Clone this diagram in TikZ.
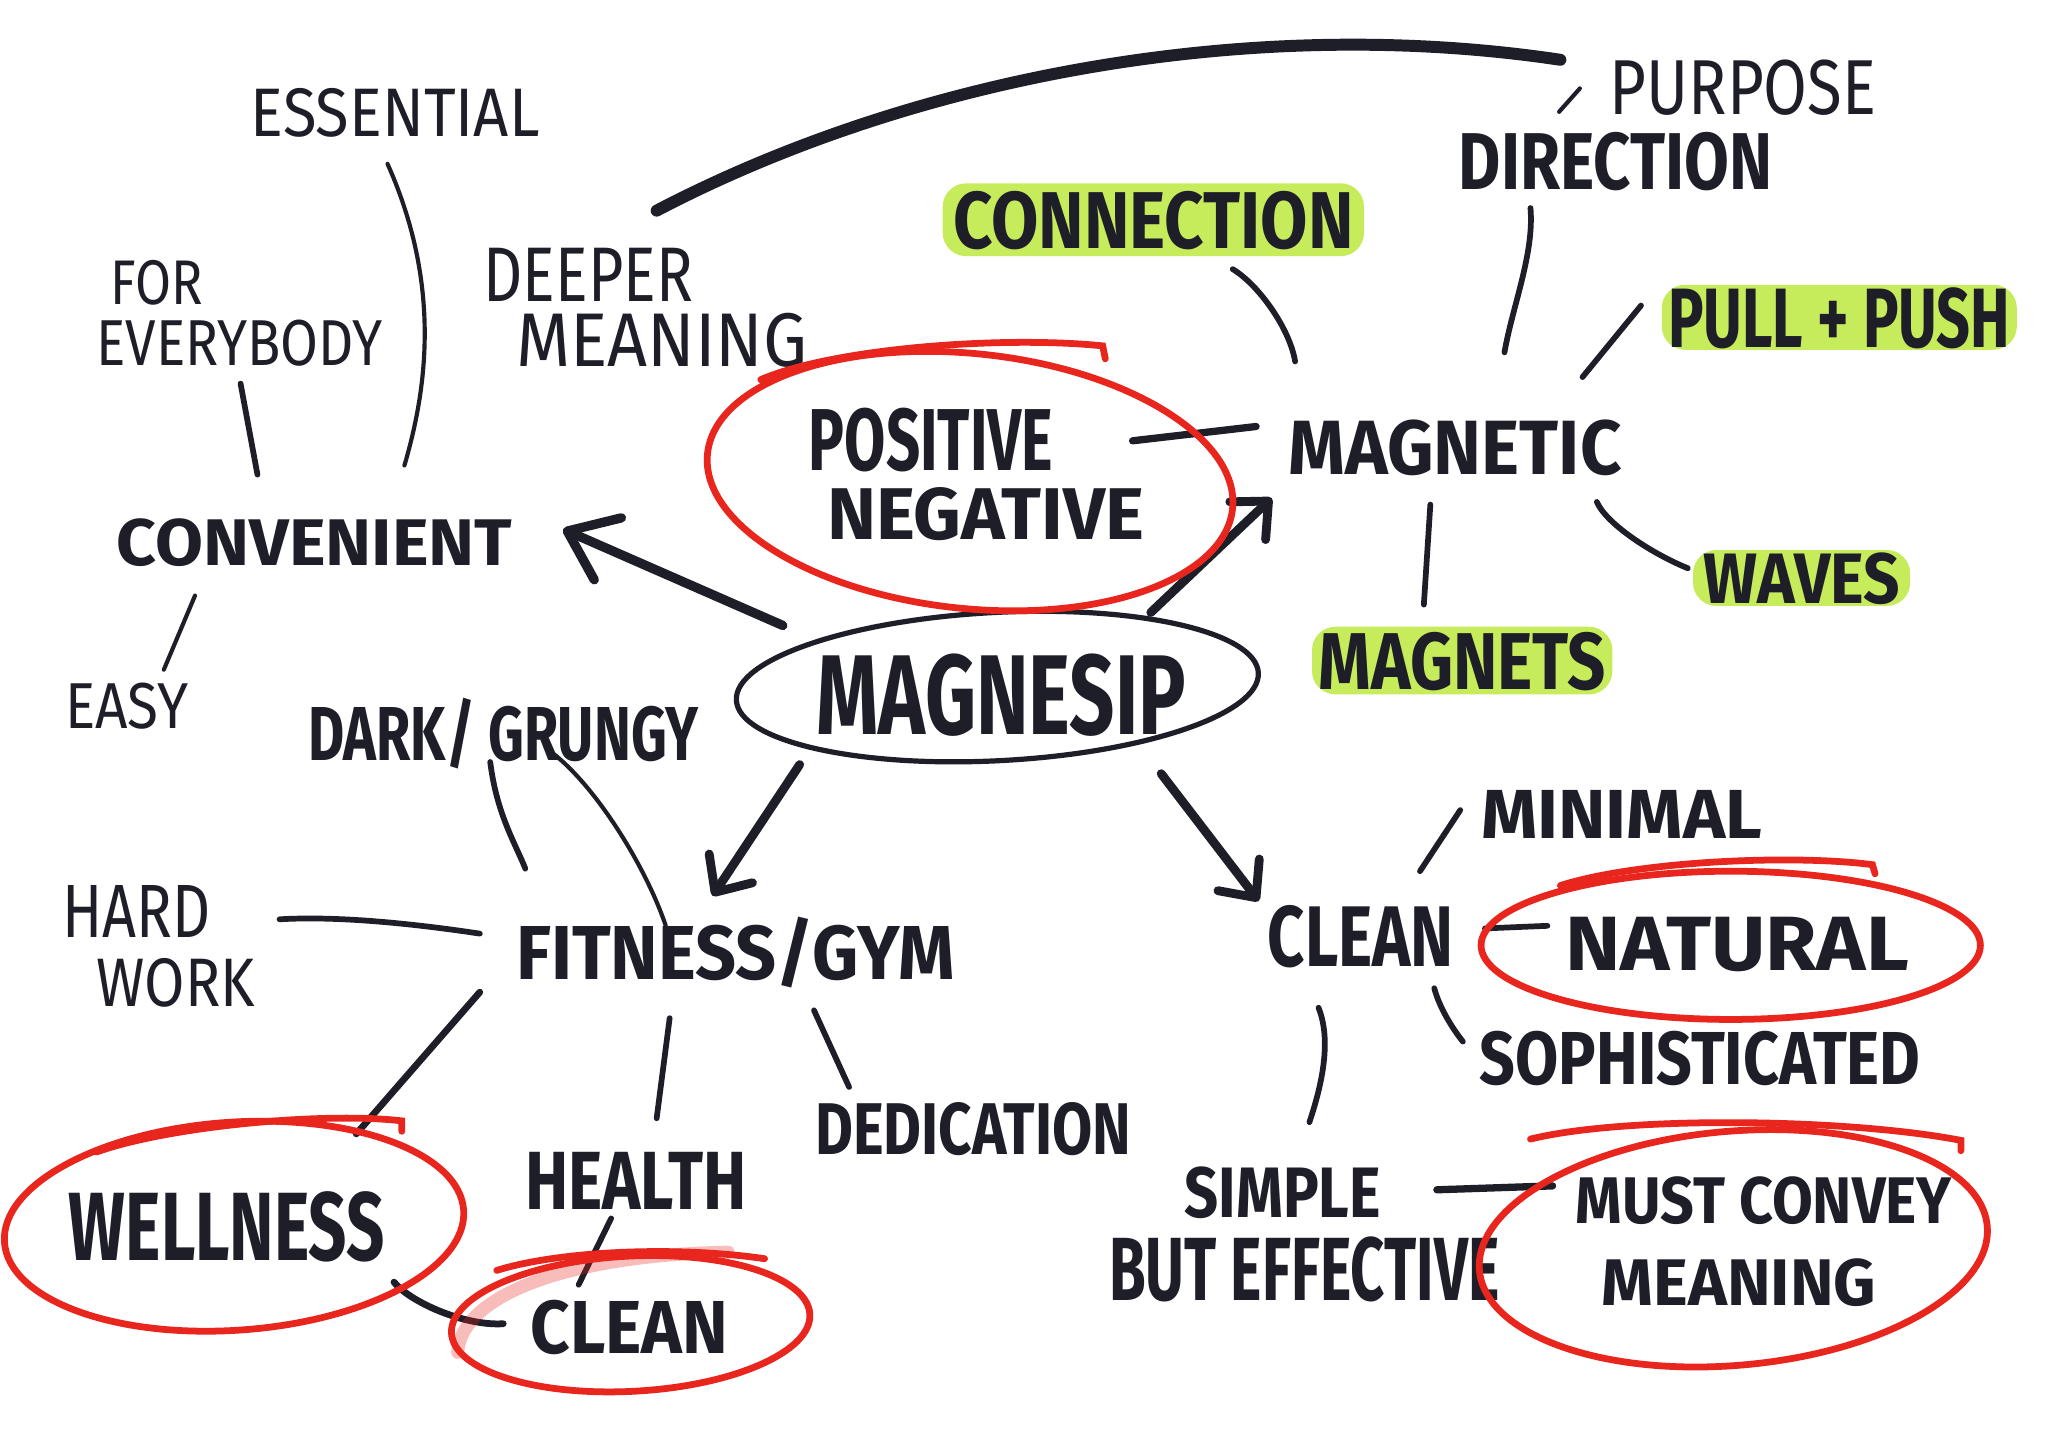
\documentclass[tikz,border=0pt]{standalone}
\usepackage{fontspec}
\setmainfont{Fira Sans}
\usepackage{graphicx}
\usetikzlibrary{arrows.meta,calc}
\definecolor{ink}{HTML}{1E1E28}
\definecolor{redink}{HTML}{E8261E}
\definecolor{hl}{HTML}{C6EC5C}
\newdimen\du \du=0.5pt
\newcommand\tx[3]{\resizebox{#1\du}{#2\du}{\raisebox{0pt}[\height][0pt]{#3}}}
\begin{document}
\begin{tikzpicture}[x=0.5pt,y=-0.5pt,
  lbl/.style={inner sep=0pt, text=ink, font=\bfseries},
  lbt/.style={inner sep=0pt, text=ink, font=\mdseries},
  ml/.style={inner sep=0pt, text=ink, align=left, font=\bfseries\fontsize{20pt}{#1}\selectfont},
  mlt/.style={inner sep=0pt, text=ink, align=left, font=\mdseries\fontsize{20pt}{#1}\selectfont},
  hlbox/.style={fill=hl, rounded corners=9pt},
  conn/.style={draw=ink, line width=2.2pt, line cap=round},
  thinln/.style={draw=ink, line width=1.6pt, line cap=round},
  arr/.style={draw=ink, line width=3.4pt, line cap=round, -{Straight Barb[length=11pt,width=20pt,round]}},
  arrbig/.style={draw=ink, line width=3.6pt, line cap=round, -{Straight Barb[length=17pt,width=26pt,round]}},
  redpen/.style={draw=redink, line width=2.6pt, line cap=round}]
\fill[white] (0,0) rectangle (1575,1100.5);
\useasboundingbox (0,0) rectangle (1575,1100.5);

% ---------- texts ----------
\node[lbt] (ess) at (304,86.5) {\tx{222}{37}{ESSENTIAL}};
\node[mlt={23.5pt}] (fore) at (184,240.5) {\hspace*{11\du}\tx{71}{34}{FOR}\\\tx{220}{35}{EVERYBODY}};
\node[mlt={25pt}] (deep) at (496.5,236.5) {\tx{161}{41}{DEEPER}\\\hspace*{25\du}\tx{224}{41}{MEANING}};
\node[lbl, hlbox, inner xsep=4pt, inner ysep=3pt] (cnx) at (887,169) {\tx{308}{44}{CONNECTION}};
\node[lbt] (purp) at (1340.5,67) {\tx{205}{42}{PURPOSE}};
\node[lbl] (dir) at (1242.5,124) {\tx{241}{44}{DIRECTION}};
\node[lbl, hlbox, inner xsep=2.5pt, inner ysep=1pt] (pull) at (1414.5,244) {\tx{263}{46}{PULL + PUSH}};
\node[lbl] (mag) at (1119,344) {\tx{256}{42}{MAGNETIC}};
\node[ml={26.5pt}] (pos) at (751,364.5) {\tx{188}{48}{POSITIVE}\\\hspace*{14\du}\tx{244}{40}{NEGATIVE}};
\node[lbl] (conv) at (242,417) {\tx{304}{36}{CONVENIENT}};
\node[lbt] (easy) at (97.5,542.5) {\tx{95}{35}{EASY}};
\node[lbl] (msip) at (770,534) {\tx{284}{62}{MAGNESIP}};
\node[lbl, hlbox, inner xsep=2.5pt, inner ysep=2pt] (mgts) at (1124.5,508) {\tx{221}{44}{MAGNETS}};
\node[lbl, hlbox, inner xsep=4pt, inner ysep=1pt] (waves) at (1385.5,444.5) {\tx{151}{39}{WAVES}};
\node[lbl] (dark) at (387,561) {\tx{300}{48}{DARK/ GRUNGY}};
\node[lbl] (mini) at (1247,626.5) {\tx{216}{37}{MINIMAL}};
\node[mlt={26.5pt}] (hard) at (122,727.5) {\tx{114}{40}{HARD}\\\hspace*{26\du}\tx{122}{37}{WORK}};
\node[lbl] (fit) at (565.5,729) {\tx{337}{48}{FITNESS/GYM}};
\node[lbl] (clr) at (1046.5,719.5) {\tx{143}{47}{CLEAN}};
\node[lbl] (nat) at (1336,725.5) {\tx{264}{41}{NATURAL}};
\node[lbl] (soph) at (1307.5,813.5) {\tx{339}{41}{SOPHISTICATED}};
\node[lbl] (ded) at (748.5,868) {\tx{243}{40}{DEDICATION}};
\node[lbl] (hlth) at (489,908) {\tx{170}{44}{HEALTH}};
\node[lbl] (well) at (174.5,942.5) {\tx{243}{53}{WELLNESS}};
\node[lbl] (clb) at (484,1020.5) {\tx{152}{41}{CLEAN}};
\node[ml={32pt}] (simp) at (1003,948.5) {\hspace*{58\du}\tx{151}{39}{SIMPLE}\\\tx{300}{49}{BUT EFFECTIVE}};
\node[ml={31.5pt}] (must) at (1356.5,954.5) {\tx{289}{36}{MUST CONVEY}\\\hspace*{20\du}\tx{211}{36}{MEANING}};

% ---------- connectors ----------
\draw[conn, line width=4.6pt] ($(deep)+(8.5,-74.5)$) .. controls +(195,-102) and +(-240,-36) .. ($(purp)+(-140.5,-21)$);
\draw[thinln] ($(ess)+(-6,39.5)$) .. controls +(42,94) and +(17,-58) .. ($(conv)+(69,-59)$);
\draw[conn] ($(fore)+(1,54.5)$) -- ($(conv)+(-44,-52)$);
\draw[thinln] ($(conv)+(-92,41)$) -- ($(easy)+(28.5,-27.5)$);
\draw[conn] ($(cnx)+(61,38)$) .. controls +(20,12) and +(-4,-25) .. ($(mag)+(-123,-66)$);
\draw[conn] ($(dir)+(-65.5,36)$) .. controls +(3,35) and +(6,-35) .. ($(mag)+(38,-73)$);
\draw[conn] ($(pull)+(-152.5,-9)$) -- ($(mag)+(98,-54)$);
\draw[thinln] ($(dir)+(-43.5,-38)$) -- ($(purp)+(-125.5,1)$);
\draw[conn, line width=2.8pt] ($(pos)+(120,-25.5)$) -- ($(mag)+(-153,-16)$);
\draw[conn] ($(mag)+(-19,44)$) -- ($(mgts)+(-29.5,-43)$);
\draw[conn] ($(mag)+(109,42)$) .. controls +(8,18) and +(-25,-10) .. ($(waves)+(-87.5,-7.5)$);
\draw[conn] ($(dark)+(-10,25)$) .. controls +(5,40) and +(-8,-20) .. ($(fit)+(-161.5,-61)$);
\draw[thinln] ($(dark)+(35,16)$) .. controls +(35,25) and +(-15,-45) .. ($(fit)+(-53.5,-17)$);
\draw[conn] ($(hard)+(93,-20.5)$) .. controls +(50,-3) and +(-40,-6) .. ($(fit)+(-196.5,-11)$);
\draw[conn, line width=2.6pt] ($(fit)+(-196.5,34)$) -- ($(well)+(99.5,-70.5)$);
\draw[conn] ($(fit)+(-50.5,54)$) -- ($(hlth)+(16,-48)$);
\draw[conn] ($(fit)+(60.5,48)$) -- ($(ded)+(-95.5,-32)$);
\draw[conn] ($(hlth)+(-19,29)$) -- ($(clb)+(-39,-32.5)$);
\draw[conn, line width=2.6pt] ($(well)+(128.5,43.5)$) .. controls +(12,15) and +(-30,2) .. ($(clb)+(-97,-2.5)$);
\draw[conn] ($(clr)+(45.5,-49.5)$) -- ($(mini)+(-124,-3.5)$);
\draw[conn] ($(clr)+(95.5,-5.5)$) -- ($(nat)+(-146,-13.5)$);
\draw[conn] ($(clr)+(56.5,40.5)$) .. controls +(4,15) and +(-8,-10) .. ($(soph)+(-182.5,-12.5)$);
\draw[conn] ($(clr)+(-32.5,55.5)$) .. controls +(10,25) and +(10,-30) .. ($(simp)+(4,-85.5)$);
\draw[conn, line width=2.8pt] ($(simp)+(102,-33.5)$) -- ($(must)+(-162.5,-42.5)$);

% ---------- arrows from MAGNESIP ----------
\draw[arrbig] ($(msip)+(-168,-53)$) -- ($(conv)+(191,-10)$);
\draw[arr] ($(msip)+(115,-63)$) -- ($(mag)+(-141,39)$);
\draw[arr] ($(msip)+(-155,54)$) -- ($(fit)+(-17.5,-40)$);
\draw[arr] ($(msip)+(123,61)$) -- ($(clr)+(-78.5,-26.5)$);

% ---------- ellipses ----------
\draw[ink, line width=2pt, rotate around={3:(767,528)}] (767,528) ellipse [x radius=201, y radius=57];

\draw[redpen, rotate around={-6:(746,370)}] (746,370) ellipse [x radius=203, y radius=98];
\draw[redpen] (585,292) .. controls (640,268) and (770,258) .. (848,266) -- (850,276);

\draw[redpen] (1331,727) ellipse [x radius=192, y radius=57];
\draw[redpen] (1200,681) .. controls (1260,662) and (1380,657) .. (1440,665) -- (1442,672);

\draw[redpen, rotate around={4:(180,943)}] (180,943) ellipse [x radius=177, y radius=80];
\draw[redpen] (74,886) .. controls (130,866) and (250,855) .. (309,862) -- (309,870);

\draw[redink, opacity=0.3, line width=5pt, line cap=round] (352,1040) .. controls (355,995) and (440,965) .. (560,963);
\draw[redpen, rotate around={3:(485,1018)}] (485,1018) ellipse [x radius=138, y radius=52];
\draw[redpen] (382,977) .. controls (430,962) and (520,958) .. (588,968);

\draw[redpen, rotate around={5:(1333,960)}] (1333,960) ellipse [x radius=196, y radius=90];
\draw[redpen] (1177,876) .. controls (1250,858) and (1420,860) .. (1508,877) -- (1508,885);
\end{tikzpicture}
\end{document}
